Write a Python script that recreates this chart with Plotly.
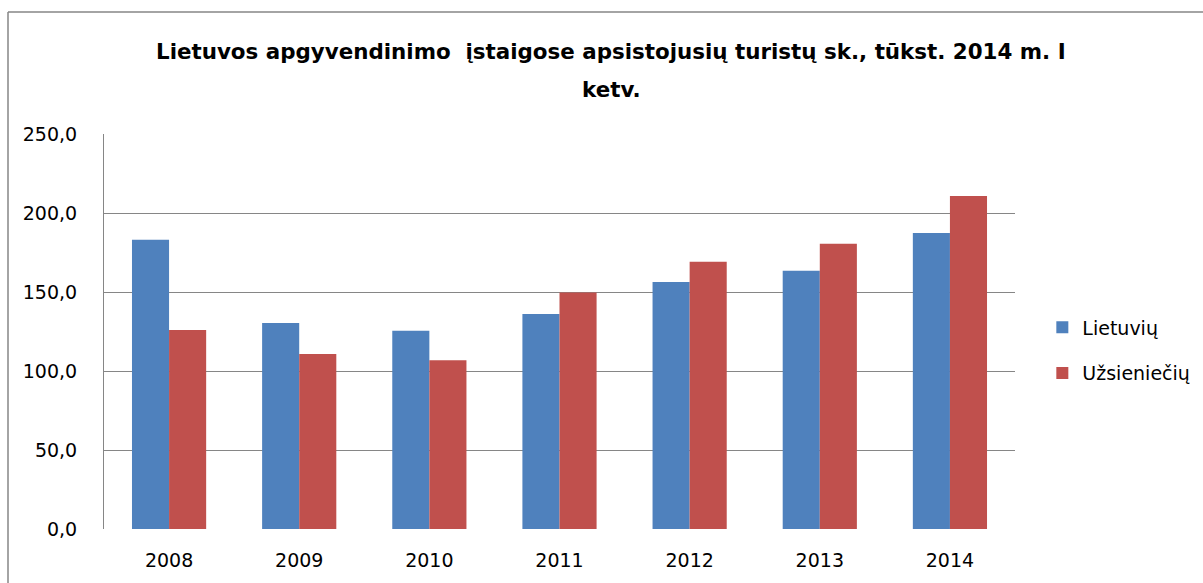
import plotly.graph_objects as go

years = ["2008", "2009", "2010", "2011", "2012", "2013", "2014"]
lietuviu = [183.1, 130.4, 125.4, 136.1, 156.4, 163.4, 187.3]
uzsienieciu = [126.0, 110.8, 106.8, 149.7, 169.1, 180.5, 210.8]
series_names = ["Lietuvių", "Užsieniečių"]
colors = ["#4F81BD", "#C0504D"]
title_lines = ["Lietuvos apgyvendinimo  įstaigose apsistojusių turistų sk., tūkst. 2014 m. I",
               "ketv."]

FONT = "DejaVu Sans"
TFONT = "DejaVu Sans"
PL, PR, PT, PB = 104, 188, 134, 54
PH = 583 - PT - PB
PW = 1203 - PL - PR

fig = go.Figure()
for name, vals, col in zip(series_names, [lietuviu, uzsienieciu], colors):
    fig.add_trace(go.Bar(x=years, y=vals, name=name, marker_color=col,
                         marker_line_width=0, legendgroup=name))

fig.update_layout(
    width=1203, height=583,
    margin=dict(l=PL, r=PR, t=PT, b=PB, autoexpand=False),
    paper_bgcolor="white", plot_bgcolor="white",
    separators=", ",
    barmode="group", bargap=0.43, bargroupgap=0,
    legend=dict(x=1.03, xanchor="left", y=0.452, yanchor="middle",
                font=dict(family=FONT, size=19, color="black"),
                tracegroupgap=18, bgcolor="rgba(0,0,0,0)"),
    font=dict(family=FONT, size=19, color="black"),
    xaxis=dict(showline=False, showgrid=False, ticks="", ticklabelstandoff=18,
               tickfont=dict(family=FONT, size=19, color="black")),
    yaxis=dict(range=[0, 250], dtick=50, tickformat=".1f", showgrid=True,
               gridcolor="#868686", gridwidth=1, zeroline=False,
               showline=True, linecolor="#868686", linewidth=1,
               ticks="", ticklabelstandoff=22,
               tickfont=dict(family=FONT, size=19, color="black")),
)
# title as two lines with the reference's wide line spacing
for txt, py in zip(title_lines, [51, 89]):
    fig.add_annotation(text="<b>" + txt + "</b>", xref="paper", yref="paper",
                       x=(611 - PL) / PW, y=(583 - PB - py) / PH,
                       xanchor="center", yanchor="middle", showarrow=False,
                       font=dict(family=TFONT, size=21.4, color="black"))
# hide baseline grid at zero (reference has no bottom line)
fig.add_shape(type="line", xref="paper", yref="y", x0=0.002, x1=1, y0=0, y1=0,
              line=dict(color="white", width=2), layer="between")
# outer chart border (top and left visible)
top_y = (583 - PB - 12) / PH
left_x = (8 - PL) / PW
fig.add_shape(type="line", xref="paper", yref="paper",
              x0=left_x, x1=(1210 - PL) / PW, y0=top_y, y1=top_y,
              line=dict(color="#868686", width=1.5))
fig.add_shape(type="line", xref="paper", yref="paper",
              x0=left_x, x1=left_x, y0=top_y, y1=-60 / PH,
              line=dict(color="#868686", width=1.5))

fig.write_html("out.html", config={"displayModeBar": False},
               post_script="document.body.style.margin='0';")
